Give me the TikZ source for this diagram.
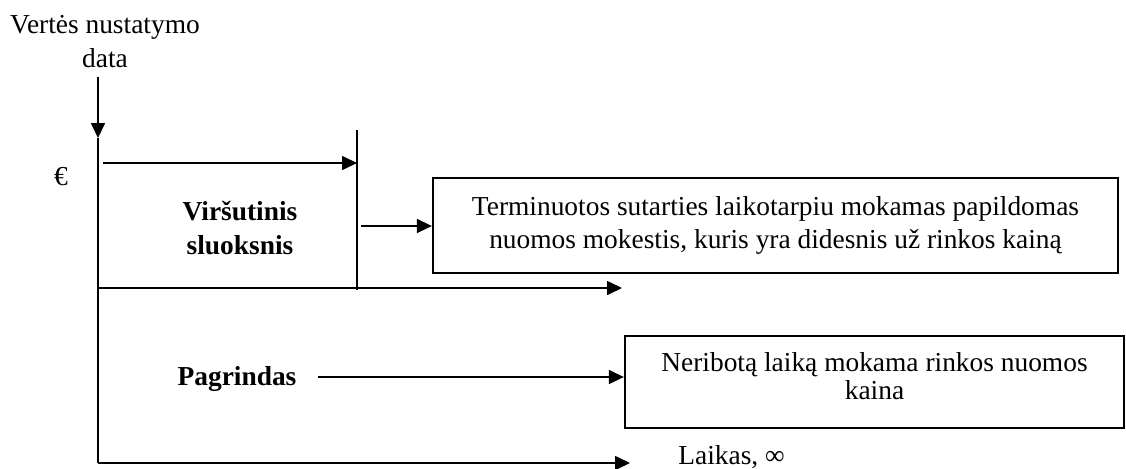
\documentclass[tikz,border=0pt]{standalone}
\usepackage{fontspec}
\setmainfont{Liberation Serif}
\usetikzlibrary{arrows.meta,positioning}
\tikzset{
  axisline/.style={line width=0.7pt},
  axisarrow/.style={line width=0.7pt, -{Triangle[length=8.5pt,width=8pt]}},
  notebox/.style={draw, line width=1.4pt, align=center, inner sep=0pt},
  lbl/.style={inner sep=0pt, font=\fontsize{15.6}{19}\selectfont},
}
\begin{document}
\begin{tikzpicture}[x=0.02cm, y=-0.02cm]
  \useasboundingbox (0,0) rectangle (1126,468);
  % labels on the left
  \node[lbl, anchor=base] (valtop) at (105,33) {Vertės nustatymo};
  \node[lbl, anchor=base] (valbot) at (105,67) {data};
  \node[lbl] (euro) at (61,177) {€};
  \node[lbl, align=center, font=\bfseries\fontsize{15.6}{19.3}\selectfont] (upper) at (240,228) {Viršutinis\\sluoksnis};
  \node[lbl, anchor=base, font=\bfseries\fontsize{15.6}{19}\selectfont] (base) at (237,385) {Pagrindas};
  \node[lbl, anchor=base west] (time) at (678,464) {Laikas, ∞};

  % text boxes
  \node[notebox, minimum width=13.7cm, minimum height=1.9cm,
        font=\fontsize{15.6}{18.8}\selectfont] (termbox) at (775.5,225.5)
        {Terminuotos sutarties laikotarpiu mokamas papildomas\\nuomos mokestis, kuris yra didesnis už rinkos kainą};
  \node[notebox, minimum width=9.98cm, minimum height=1.84cm, text depth=7pt,
        font=\fontsize{15.6}{16}\selectfont] (marketbox) at (874.5,382)
        {Neribotą laiką mokama rinkos nuomos\\kaina};

  % axes
  \coordinate (datetop) at (98,77);
  \coordinate (origin) at (98,138);
  \coordinate (bottomleft) at (98,463);
  \coordinate (bottomright) at (630,463);
  \coordinate (midleft) at (98,288);
  \coordinate (midright) at (622,288);
  \draw[axisarrow] (datetop) -- (origin);
  \draw[axisline] (origin) -- (bottomleft);
  \draw[axisarrow] (bottomleft) -- (bottomright);
  \draw[axisarrow] (midleft) -- (midright);

  % term span
  \coordinate (termtop) at (357,130);
  \coordinate (termbot) at (357,290);
  \coordinate (spanstart) at (103,163);
  \draw[axisline] (termtop) -- (termbot);
  \draw[axisarrow] (spanstart) -- (spanstart -| termtop);
  \coordinate (upperarrow) at (361,226);
  \draw[axisarrow] (upperarrow) -- (upperarrow -| termbox.west);

  \coordinate (basearrow) at (318,377);
  \draw[axisarrow] (basearrow) -- (basearrow -| marketbox.west);
\end{tikzpicture}
\end{document}
